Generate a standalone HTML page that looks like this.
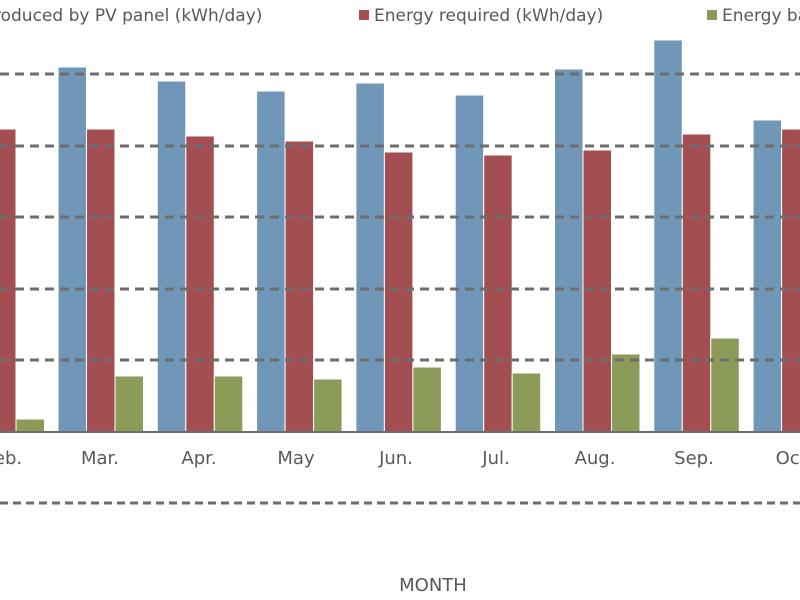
<!DOCTYPE html>
<html><head><style>
body{margin:0;background:#fff}
svg{display:block}
text{font-family:"DejaVu Sans","Liberation Sans",sans-serif;fill:#595959}
</style></head><body>
<svg width="800" height="600" xmlns="http://www.w3.org/2000/svg">
<g stroke="#fff" stroke-width="1">
<rect x="-41" y="90" width="28.5" height="342" fill="#7096b8"/>
<rect x="-12.5" y="129" width="28.5" height="303" fill="#a34f52"/>
<rect x="16" y="419" width="28.5" height="13" fill="#8c9b58"/>
<rect x="58" y="67" width="28.5" height="365" fill="#7096b8"/>
<rect x="86.5" y="129" width="28.5" height="303" fill="#a34f52"/>
<rect x="115" y="376" width="28.5" height="56" fill="#8c9b58"/>
<rect x="157.3" y="81" width="28.5" height="351" fill="#7096b8"/>
<rect x="185.8" y="136" width="28.5" height="296" fill="#a34f52"/>
<rect x="214.3" y="376" width="28.5" height="56" fill="#8c9b58"/>
<rect x="256.6" y="91" width="28.5" height="341" fill="#7096b8"/>
<rect x="285.1" y="141" width="28.5" height="291" fill="#a34f52"/>
<rect x="313.6" y="379" width="28.5" height="53" fill="#8c9b58"/>
<rect x="355.9" y="83" width="28.5" height="349" fill="#7096b8"/>
<rect x="384.4" y="152" width="28.5" height="280" fill="#a34f52"/>
<rect x="412.9" y="367" width="28.5" height="65" fill="#8c9b58"/>
<rect x="455.2" y="95" width="28.5" height="337" fill="#7096b8"/>
<rect x="483.7" y="155" width="28.5" height="277" fill="#a34f52"/>
<rect x="512.2" y="373" width="28.5" height="59" fill="#8c9b58"/>
<rect x="554.5" y="69" width="28.5" height="363" fill="#7096b8"/>
<rect x="583" y="150" width="28.5" height="282" fill="#a34f52"/>
<rect x="611.5" y="354" width="28.5" height="78" fill="#8c9b58"/>
<rect x="653.8" y="40" width="28.5" height="392" fill="#7096b8"/>
<rect x="682.3" y="134" width="28.5" height="298" fill="#a34f52"/>
<rect x="710.8" y="338" width="28.5" height="94" fill="#8c9b58"/>
<rect x="753.1" y="120" width="28.5" height="312" fill="#7096b8"/>
<rect x="781.6" y="129" width="28.5" height="303" fill="#a34f52"/>
</g>
<g stroke="#6d6d6d" stroke-width="3" stroke-dasharray="9,6">
<line x1="0" y1="74" x2="800" y2="74"/>
<line x1="0" y1="146" x2="800" y2="146"/>
<line x1="0" y1="217" x2="800" y2="217"/>
<line x1="0" y1="289" x2="800" y2="289"/>
<line x1="0" y1="360" x2="800" y2="360"/>
</g>
<line x1="0" y1="503" x2="800" y2="503" stroke="#6d6d6d" stroke-width="3" stroke-dasharray="8,5"/>
<line x1="0" y1="432" x2="800" y2="432" stroke="#6d6d6d" stroke-width="2"/>
<g font-size="18" text-anchor="middle">
<text x="8" y="464">eb.</text>
<text x="100" y="464">Mar.</text>
<text x="199" y="464">Apr.</text>
<text x="296" y="464">May</text>
<text x="396" y="464">Jun.</text>
<text x="496" y="464">Jul.</text>
<text x="595" y="464">Aug.</text>
<text x="694" y="464">Sep.</text>
<text x="794" y="464">Oct.</text>
<text x="433" y="591">MONTH</text>
</g>
<g font-size="17">
<text x="-6" y="21">roduced by PV panel (kWh/day)</text>
<rect x="359" y="10" width="10" height="10" fill="#a34f52"/>
<text x="374" y="21">Energy required (kWh/day)</text>
<rect x="707" y="10" width="10" height="10" fill="#8c9b58"/>
<text x="722" y="21">Energy balance</text>
</g>
</svg>
</body></html>
